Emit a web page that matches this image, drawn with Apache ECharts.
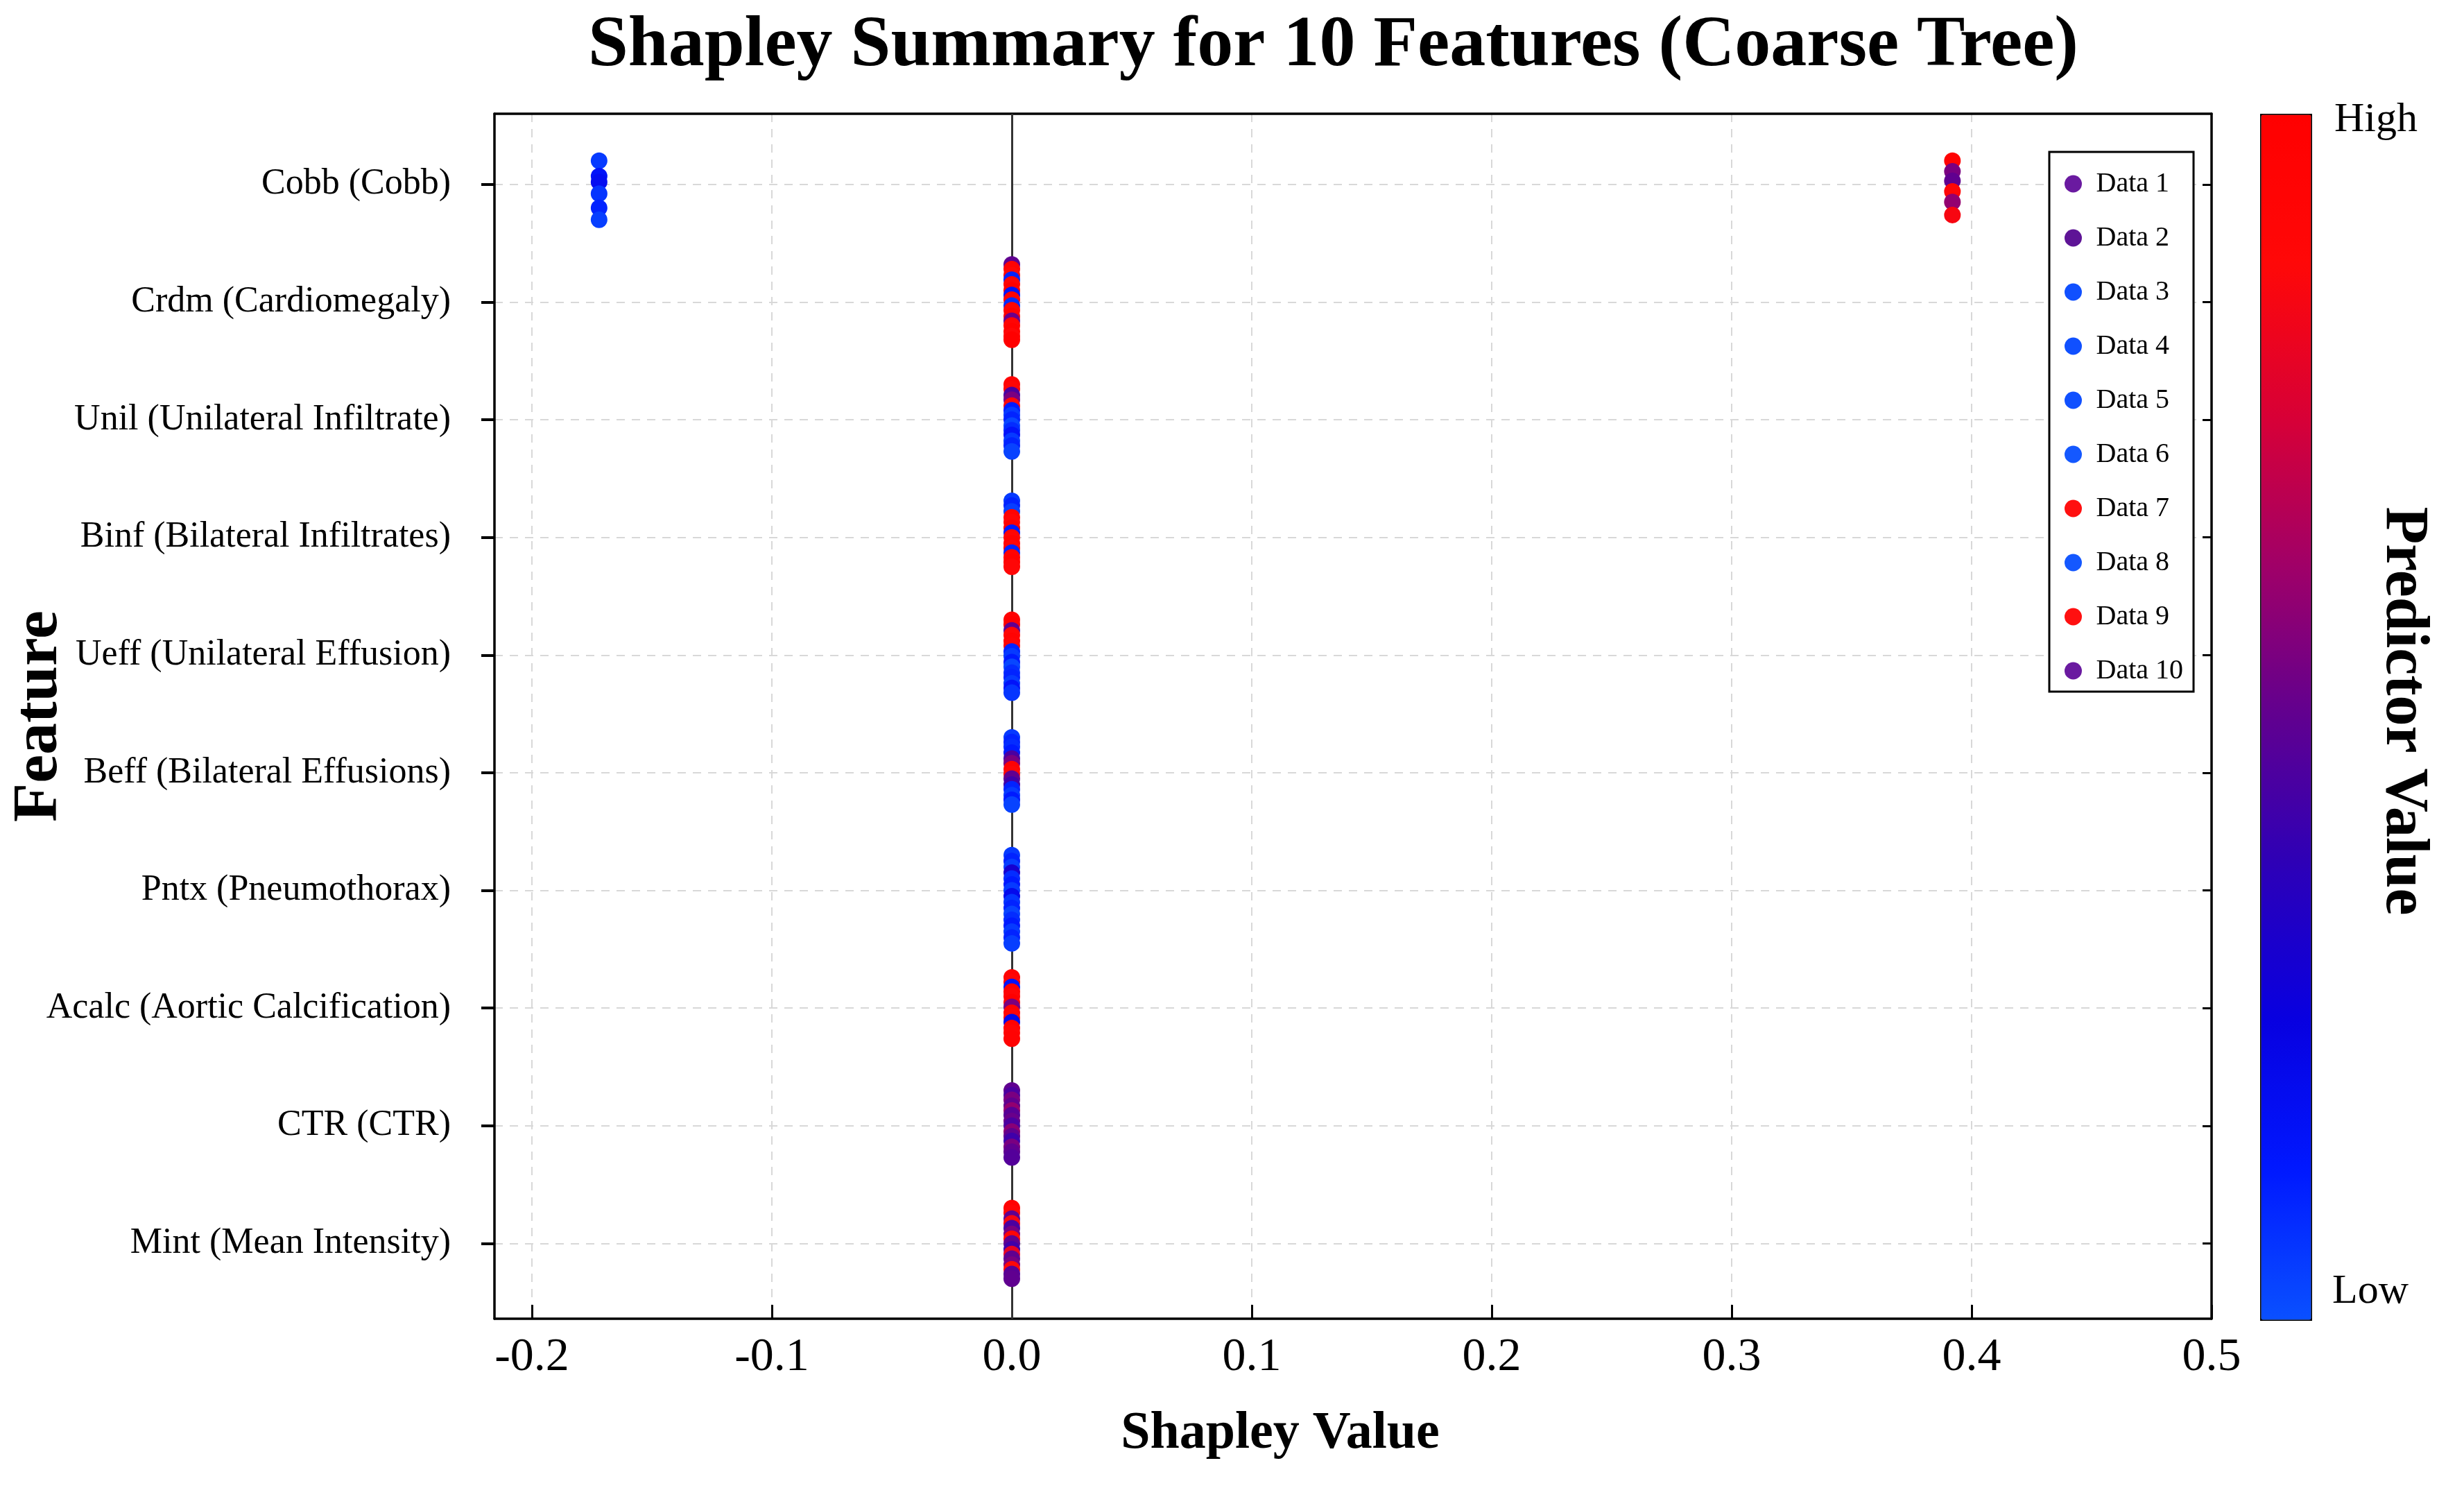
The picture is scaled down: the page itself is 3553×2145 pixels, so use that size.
<!DOCTYPE html>
<html>
<head>
<meta charset="utf-8">
<script src="https://cdn.jsdelivr.net/npm/echarts@6/dist/echarts.min.js"></script>
<style>
    html, body { margin: 0; padding: 0; background: #fff; }
    #chart { width: 3553px; height: 2145px; }
</style>
</head>
<body>
<div id="chart"></div>
<script>
// feature names, top to bottom
const featureNames = [
    'Cobb (Cobb)', 'Crdm (Cardiomegaly)', 'Unil (Unilateral Infiltrate)',
    'Binf (Bilateral Infiltrates)', 'Ueff (Unilateral Effusion)', 'Beff (Bilateral Effusions)',
    'Pntx (Pneumothorax)', 'Acalc (Aortic Calcification)', 'CTR (CTR)', 'Mint (Mean Intensity)'
]
const seriesNames = ['Data 1', 'Data 2', 'Data 3', 'Data 4', 'Data 5', 'Data 6', 'Data 7', 'Data 8', 'Data 9', 'Data 10']
const legendColors = ['#6a1aa0', '#5e1496', '#1050ff', '#1050ff', '#1050ff', '#1458ff', '#ff1010', '#1458ff', '#ff1010', '#6a1aa0']
const xTicks = [-0.2, -0.1, 0, 0.1, 0.2, 0.3, 0.4, 0.5]
const yTicks = [1, 2, 3, 4, 5, 6, 7, 8, 9, 10]

// each point: [shapley value, vertical jitter, predictor value (0 low .. 1 high)]
const cobbPoints = [
    [-0.172, -0.20, 0.05], [-0.172, -0.07, 0.15], [-0.172, -0.02, 0.18],
    [-0.172, 0.08, 0.06], [-0.172, 0.20, 0.10], [-0.172, 0.30, 0.04],
    [0.392, -0.20, 0.95], [0.392, -0.11, 0.55], [0.392, -0.03, 0.50],
    [0.392, 0.06, 0.90], [0.392, 0.15, 0.60], [0.392, 0.26, 0.85]
]
const crdmPoints = [
    [0, -0.32, 0.50], [0, -0.28, 0.95], [0, -0.23, 0.90], [0, -0.19, 0.10],
    [0, -0.15, 0.92], [0, -0.10, 1.00], [0, -0.06, 0.15], [0, -0.02, 0.95],
    [0, 0.03, 0.08], [0, 0.07, 0.90], [0, 0.12, 0.97], [0, 0.16, 0.52],
    [0, 0.20, 0.93], [0, 0.25, 0.98], [0, 0.29, 0.90], [0, 0.32, 1.00]
]
const unilPoints = [
    [0, -0.30, 0.95], [0, -0.26, 0.90], [0, -0.21, 0.45], [0, -0.17, 0.55],
    [0, -0.12, 0.88], [0, -0.08, 0.12], [0, -0.04, 0.05], [0, 0.00, 0.10],
    [0, 0.05, 0.02], [0, 0.09, 0.08], [0, 0.13, 0.15], [0, 0.18, 0.05],
    [0, 0.22, 0.10], [0, 0.27, 0.03]
]
const binfPoints = [
    [0, -0.31, 0.05], [0, -0.27, 0.10], [0, -0.22, 0.04], [0, -0.17, 0.95],
    [0, -0.13, 0.90], [0, -0.08, 1.00], [0, -0.04, 0.12], [0, 0.00, 0.92],
    [0, 0.05, 0.97], [0, 0.09, 0.90], [0, 0.13, 0.10], [0, 0.17, 0.95],
    [0, 0.21, 0.98], [0, 0.25, 0.90]
]
const ueffPoints = [
    [0, -0.30, 0.95], [0, -0.26, 1.00], [0, -0.21, 0.50], [0, -0.17, 0.90],
    [0, -0.12, 0.95], [0, -0.08, 0.92], [0, -0.03, 0.10], [0, 0.01, 0.05],
    [0, 0.06, 0.12], [0, 0.10, 0.02], [0, 0.15, 0.08], [0, 0.19, 0.10],
    [0, 0.24, 0.05], [0, 0.28, 0.15], [0, 0.32, 0.06]
]
const beffPoints = [
    [0, -0.30, 0.05], [0, -0.26, 0.10], [0, -0.22, 0.08], [0, -0.17, 0.12],
    [0, -0.12, 0.45], [0, -0.08, 0.55], [0, -0.03, 0.95], [0, 0.01, 0.90],
    [0, 0.05, 0.50], [0, 0.10, 0.42], [0, 0.14, 0.10], [0, 0.19, 0.05],
    [0, 0.23, 0.12], [0, 0.27, 0.03]
]
const pntxPoints = [
    [0, -0.30, 0.05], [0, -0.25, 0.10], [0, -0.20, 0.04], [0, -0.15, 0.30],
    [0, -0.10, 0.08], [0, -0.05, 0.12], [0, 0.00, 0.05], [0, 0.05, 0.20],
    [0, 0.10, 0.06], [0, 0.15, 0.10], [0, 0.20, 0.03], [0, 0.25, 0.08],
    [0, 0.30, 0.12], [0, 0.35, 0.05], [0, 0.40, 0.10], [0, 0.45, 0.04]
]
const acalcPoints = [
    [0, -0.26, 0.95], [0, -0.22, 0.90], [0, -0.18, 0.15], [0, -0.14, 0.98],
    [0, -0.10, 0.92], [0, -0.05, 1.00], [0, -0.01, 0.55], [0, 0.04, 0.95],
    [0, 0.08, 0.90], [0, 0.12, 0.20], [0, 0.17, 0.97], [0, 0.21, 0.92],
    [0, 0.26, 0.95]
]
const ctrPoints = [
    [0, -0.30, 0.50], [0, -0.26, 0.45], [0, -0.22, 0.55], [0, -0.17, 0.50],
    [0, -0.13, 0.60], [0, -0.09, 0.48], [0, -0.04, 0.52], [0, 0.00, 0.45],
    [0, 0.05, 0.58], [0, 0.09, 0.50], [0, 0.13, 0.42], [0, 0.18, 0.55],
    [0, 0.22, 0.50], [0, 0.27, 0.47]
]
const mintPoints = [
    [0, -0.30, 0.95], [0, -0.26, 0.90], [0, -0.21, 0.50], [0, -0.17, 0.85],
    [0, -0.13, 0.45], [0, -0.08, 0.55], [0, -0.04, 0.90], [0, 0.00, 0.50],
    [0, 0.05, 0.42], [0, 0.09, 0.80], [0, 0.13, 0.50], [0, 0.18, 0.55],
    [0, 0.22, 0.88], [0, 0.26, 0.48], [0, 0.30, 0.50]
]
const pointSets = [cobbPoints, crdmPoints, unilPoints, binfPoints, ueffPoints,
    beffPoints, pntxPoints, acalcPoints, ctrPoints, mintPoints]

// colorbar, low -> high
const colorScale = ['#0a50ff', '#0018ff', '#0800e0', '#2c00b8', '#600090', '#a00068', '#d80036', '#ff0808', '#ff0000']

const serif = 'Liberation Serif'

onload = () => {
    let myChart = echarts.init(document.getElementById('chart'))
    let option

    let series = pointSets.map((pts, i) => ({
        name: seriesNames[i],
        type: 'scatter',
        xAxisIndex: 0,
        yAxisIndex: 0,
        symbol: 'circle',
        symbolSize: 24,
        z: 3,
        itemStyle: { color: legendColors[i], opacity: 1 },
        data: pts.map(p => [p[0], i + 1 + p[1], p[2]])
    }))
    // zero reference line under the dots
    series[0].markLine = {
        silent: true,
        z: 1,
        symbol: ['none', 'none'],
        label: { show: false },
        lineStyle: { color: '#333', width: 3, type: 'solid' },
        data: [{ xAxis: 0 }]
    }

    option = {
        backgroundColor: '#fff',
        animation: false,
        title: {
            text: 'Shapley Summary for 10 Features (Coarse Tree)',
            left: 843,
            top: 10,
            textStyle: { fontFamily: serif, fontWeight: 'bold', fontSize: 104, color: '#000' }
        },
        grid: { left: 713, right: 364, top: 164, bottom: 244, outerBoundsMode: 'none' },
        legend: {
            data: seriesNames,
            orient: 'vertical',
            left: 2955,
            top: 219,
            padding: [26, 15, 10, 22],
            itemWidth: 56,
            itemHeight: 25,
            itemGap: 38,
            icon: 'circle',
            backgroundColor: '#fff',
            borderColor: '#000',
            borderWidth: 3,
            textStyle: { fontFamily: serif, fontSize: 40, lineHeight: 40, color: '#000' }
        },
        visualMap: {
            type: 'continuous',
            min: 0,
            max: 1,
            dimension: 2,
            seriesIndex: [0, 1, 2, 3, 4, 5, 6, 7, 8, 9],
            calculable: false,
            hoverLink: false,
            orient: 'vertical',
            left: 3259,
            top: 164,
            itemWidth: 72,
            itemHeight: 1737,
            padding: 0,
            borderColor: '#000',
            borderWidth: 3,
            inRange: { color: colorScale }
        },
        xAxis: [
            {
                type: 'value',
                min: -0.2156,
                max: 0.5,
                position: 'bottom',
                name: 'Shapley Value',
                nameLocation: 'middle',
                nameGap: 128,
                nameTextStyle: {
                    fontFamily: serif, fontWeight: 'bold', fontSize: 76, color: '#000',
                    padding: [0, 210, 0, 0]
                },
                axisLine: { show: true, onZero: false, lineStyle: { color: '#000', width: 3.5 } },
                axisTick: { show: true, inside: true, length: 20, customValues: xTicks, lineStyle: { color: '#000', width: 3 } },
                axisLabel: {
                    customValues: xTicks,
                    formatter: v => v.toFixed(1),
                    fontFamily: serif, fontSize: 68, color: '#000', margin: 22
                },
                splitLine: { show: true, lineStyle: { type: [12, 10], color: '#d8d8d8', width: 2 } }
            },
            {
                type: 'value',
                min: -0.2156,
                max: 0.5,
                position: 'top',
                axisLine: { show: true, onZero: false, lineStyle: { color: '#000', width: 3.5 } },
                axisTick: { show: false },
                axisLabel: { show: false },
                splitLine: { show: false }
            }
        ],
        yAxis: [
            {
                type: 'value',
                min: 0.4,
                max: 10.64,
                inverse: true,
                position: 'left',
                name: 'Feature',
                nameLocation: 'middle',
                nameRotate: 90,
                nameMoveOverlap: false,
                nameGap: 610,
                nameTextStyle: { fontFamily: serif, fontWeight: 'bold', fontSize: 92, color: '#000' },
                axisLine: { show: true, onZero: false, lineStyle: { color: '#000', width: 3.5 } },
                axisTick: { show: true, inside: false, length: 19, customValues: yTicks, lineStyle: { color: '#000', width: 4 } },
                axisLabel: {
                    customValues: yTicks,
                    formatter: v => featureNames[Math.round(v) - 1],
                    fontFamily: serif, fontSize: 52, color: '#000', margin: 63
                },
                splitLine: { show: true, lineStyle: { type: [12, 10], color: '#d8d8d8', width: 2 } }
            },
            {
                type: 'value',
                min: 0.4,
                max: 10.64,
                inverse: true,
                position: 'right',
                axisLine: { show: true, onZero: false, lineStyle: { color: '#000', width: 3.5 } },
                axisTick: { show: true, inside: true, length: 13, customValues: yTicks, lineStyle: { color: '#000', width: 3 } },
                axisLabel: { show: false },
                splitLine: { show: false }
            }
        ],
        graphic: [
            {
                type: 'text', x: 3366, y: 173,
                style: { text: 'High', fontFamily: serif, fontSize: 60, fill: '#000', textAlign: 'left', textVerticalAlign: 'middle' }
            },
            {
                type: 'text', x: 3363, y: 1862,
                style: { text: 'Low', fontFamily: serif, fontSize: 60, fill: '#000', textAlign: 'left', textVerticalAlign: 'middle' }
            },
            {
                type: 'text', x: 3465, y: 1025, rotation: -Math.PI / 2,
                style: { text: 'Predictor Value', fontFamily: serif, fontWeight: 'bold', fontSize: 88, fill: '#000', textAlign: 'center', textVerticalAlign: 'middle' }
            }
        ],
        series: series
    }

    option && myChart.setOption(option)
}
</script>
</body>
</html>
